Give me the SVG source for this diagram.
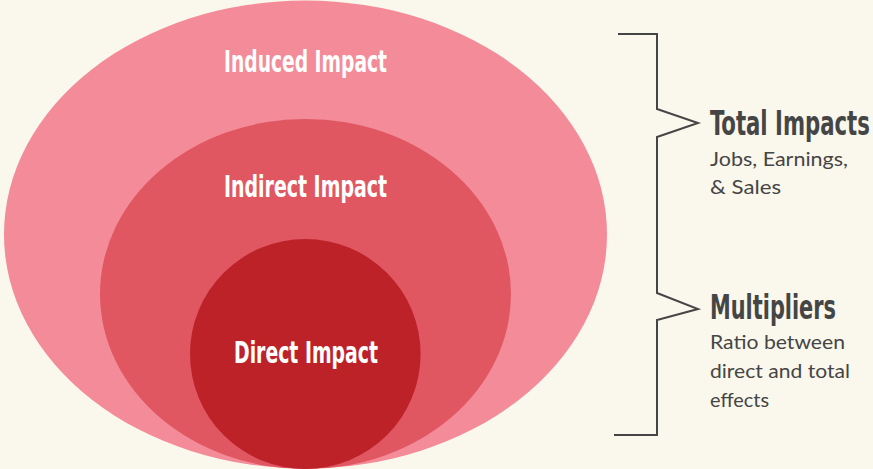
<svg xmlns="http://www.w3.org/2000/svg" width="873" height="469" viewBox="0 0 873 469">
<style>
.lbl{font-family:"DejaVu Sans Condensed","DejaVu Sans",sans-serif;font-stretch:condensed;font-weight:bold;fill:#ffffff;font-size:30px}
.hd{font-family:"DejaVu Sans Condensed","DejaVu Sans",sans-serif;font-stretch:condensed;font-weight:bold;fill:#454545;font-size:33px}
.sub{font-family:"Lato","Noto Sans",sans-serif;fill:#454545;font-size:20px}
.br{fill:none;stroke:#454545;stroke-width:2}
</style>
<rect width="873" height="469" fill="#faf7ec"/>
<g id="induced">
<ellipse cx="305.5" cy="234.5" rx="301.5" ry="234" fill="#f48b98"/>
<text class="lbl" x="224" y="72" textLength="163" lengthAdjust="spacingAndGlyphs">Induced Impact</text>
</g>
<g id="indirect">
<ellipse cx="305.5" cy="294" rx="205.5" ry="175" fill="#e05762"/>
<text class="lbl" x="224" y="197" textLength="163" lengthAdjust="spacingAndGlyphs">Indirect Impact</text>
</g>
<g id="direct">
<ellipse cx="305.3" cy="354" rx="115.3" ry="115" fill="#be2229"/>
<text class="lbl" x="234" y="363" textLength="144" lengthAdjust="spacingAndGlyphs">Direct Impact</text>
</g>
<g id="connectors">
<polyline class="br" points="618,34 657,34 657,109 698,123 657,137 657,293 698,309 657,320 657,435 614,435"/>
</g>
<g id="total">
<text class="hd" transform="translate(710,135) scale(0.72,1)" x="0" y="0" textLength="222" lengthAdjust="spacingAndGlyphs">Total Impacts</text>
<text class="sub" x="710" y="166" textLength="138" lengthAdjust="spacingAndGlyphs">Jobs, Earnings,</text>
<text class="sub" x="710" y="194" textLength="71" lengthAdjust="spacingAndGlyphs">&amp; Sales</text>
</g>
<g id="multipliers">
<text class="hd" transform="translate(710,319) scale(0.72,1)" x="0" y="0" textLength="175" lengthAdjust="spacingAndGlyphs">Multipliers</text>
<text class="sub" x="710" y="349" textLength="135" lengthAdjust="spacingAndGlyphs">Ratio between</text>
<text class="sub" x="710" y="378" textLength="140" lengthAdjust="spacingAndGlyphs">direct and total</text>
<text class="sub" x="710" y="407" textLength="59" lengthAdjust="spacingAndGlyphs">effects</text>
</g>
</svg>
